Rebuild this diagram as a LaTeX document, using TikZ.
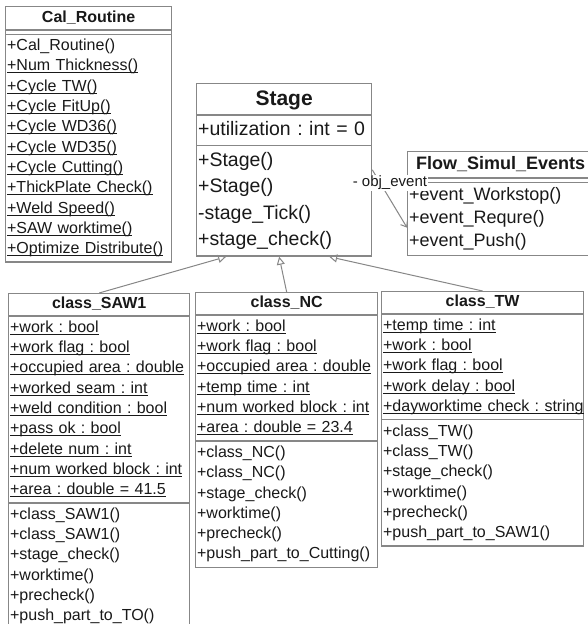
\documentclass[tikz,border=0pt]{standalone}
\usepackage{fontspec}
\setmainfont{Liberation Sans}
\usepackage{tikz}
\usetikzlibrary{arrows.meta,positioning,shapes.multipart}

\definecolor{umlline}{RGB}{135,135,135}
\definecolor{umltext}{RGB}{25,25,25}

\frenchspacing
\newcommand{\umlhead}[2]{\hspace*{\fill}\rule[-.27\dimexpr#1\relax]{0pt}{#1}\textbf{#2}\hspace*{\fill}}
\newcommand{\umlstatic}[1]{\strut\setbox0\hbox{#1}\rlap{\rule[-2.4pt]{\wd0}{0.9pt}}\box0}

\begin{document}
\begin{tikzpicture}[
  x=1pt, y=-1pt,
  umlbox/.style={rectangle split, rectangle split parts=3, draw=umlline, line width=1.3pt,
    text=umltext, align=left, inner xsep=1.5pt, inner ysep=1.5pt, anchor=north west,
    rectangle split empty part height=6pt, rectangle split empty part depth=0pt},
  classbox/.style={umlbox, font=\fontsize{16}{20.3}\selectfont},
  bigbox/.style={umlbox, font=\fontsize{19.5}{26.5}\selectfont},
  inherit/.style={draw=umlline, line width=1pt, -{Triangle[open, length=8pt, width=8pt]}},
  assoc/.style={draw=umlline, line width=1pt, -{Straight Barb[length=5pt, width=8pt]}},
  rolelabel/.style={fill=white, inner sep=1pt, text=umltext, font=\fontsize{15}{18}\selectfont},
]
  \useasboundingbox (0,0) rectangle (588,624);
  \fill[white] (0,0) rectangle (588,624);
  \clip (0,0) rectangle (588,624);

  % helper class
  \node[classbox, text width=163pt] (cal) at (5,6) {
    \umlhead{19pt}{Cal\_Routine}
    \nodepart{two}
    \nodepart{three}
    \strut+Cal\_Routine()\\
    \umlstatic{+Num Thickness()}\\
    \umlstatic{+Cycle TW()}\\
    \umlstatic{+Cycle FitUp()}\\
    \umlstatic{+Cycle WD36()}\\
    \umlstatic{+Cycle WD35()}\\
    \umlstatic{+Cycle Cutting()}\\
    \umlstatic{+ThickPlate Check()}\\
    \umlstatic{+Weld Speed()}\\
    \umlstatic{+SAW worktime()}\\
    \umlstatic{+Optimize Distribute()}};

  % base class
  \node[bigbox, text width=172pt] (stage) at (196,83) {
    \umlhead{27pt}{\fontsize{21}{26}\selectfont Stage}
    \nodepart{two}
    \strut+utilization : int = 0
    \nodepart{three}
    \strut+Stage()\\
    \strut+Stage()\\
    \strut-stage\_Tick()\\
    \strut+stage\_check()};

  \node[umlbox, font=\fontsize{18}{23}\selectfont, text width=183pt,
    rectangle split empty part height=5pt] (flow) at (407,151) {
    \umlhead{22pt}{Flow\_Simul\_Events}
    \nodepart{two}
    \nodepart{three}
    \strut+event\_Workstop()\\
    \strut+event\_Requre()\\
    \strut+event\_Push()};

  % stage classes
  \node[classbox, text width=178pt] (saw1) at (8,293) {
    \umlhead{18pt}{class\_SAW1}
    \nodepart{two}
    \umlstatic{+work : bool}\\
    \umlstatic{+work flag : bool}\\
    \umlstatic{+occupied area : double}\\
    \umlstatic{+worked seam : int}\\
    \umlstatic{+weld condition : bool}\\
    \umlstatic{+pass ok : bool}\\
    \umlstatic{+delete num : int}\\
    \umlstatic{+num worked block : int}\\
    \umlstatic{+area : double = 41.5}
    \nodepart{three}
    \strut+class\_SAW1()\\
    \strut+class\_SAW1()\\
    \strut+stage\_check()\\
    \strut+worktime()\\
    \strut+precheck()\\
    \strut+push\_part\_to\_TO()};

  \node[classbox, text width=179pt] (nc) at (195,292) {
    \umlhead{18pt}{class\_NC}
    \nodepart{two}
    \umlstatic{+work : bool}\\
    \umlstatic{+work flag : bool}\\
    \umlstatic{+occupied area : double}\\
    \umlstatic{+temp time : int}\\
    \umlstatic{+num worked block : int}\\
    \umlstatic{+area : double = 23.4}
    \nodepart{three}
    \strut+class\_NC()\\
    \strut+class\_NC()\\
    \strut+stage\_check()\\
    \strut+worktime()\\
    \strut+precheck()\\
    \strut+push\_part\_to\_Cutting()};

  \node[classbox, text width=199pt] (tw) at (381,291) {
    \umlhead{18pt}{class\_TW}
    \nodepart{two}
    \umlstatic{+temp time : int}\\
    \umlstatic{+work : bool}\\
    \umlstatic{+work flag : bool}\\
    \umlstatic{+work delay : bool}\\
    \umlstatic{+dayworktime check : string}
    \nodepart{three}
    \strut+class\_TW()\\
    \strut+class\_TW()\\
    \strut+stage\_check()\\
    \strut+worktime()\\
    \strut+precheck()\\
    \strut+push\_part\_to\_SAW1()};

  % generalisation
  \draw[inherit] (saw1.north) -- ([xshift=-58pt]stage.south);
  \draw[inherit] (nc.north) -- ([xshift=-5pt]stage.south);
  \draw[inherit] (tw.north) -- ([xshift=45pt]stage.south);

  % association
  \draw[assoc] (stage.east) -- node[pos=0.22, xshift=10pt, rolelabel] (role) {- obj\_event} ([yshift=-24pt]flow.west);
\end{tikzpicture}
\end{document}
